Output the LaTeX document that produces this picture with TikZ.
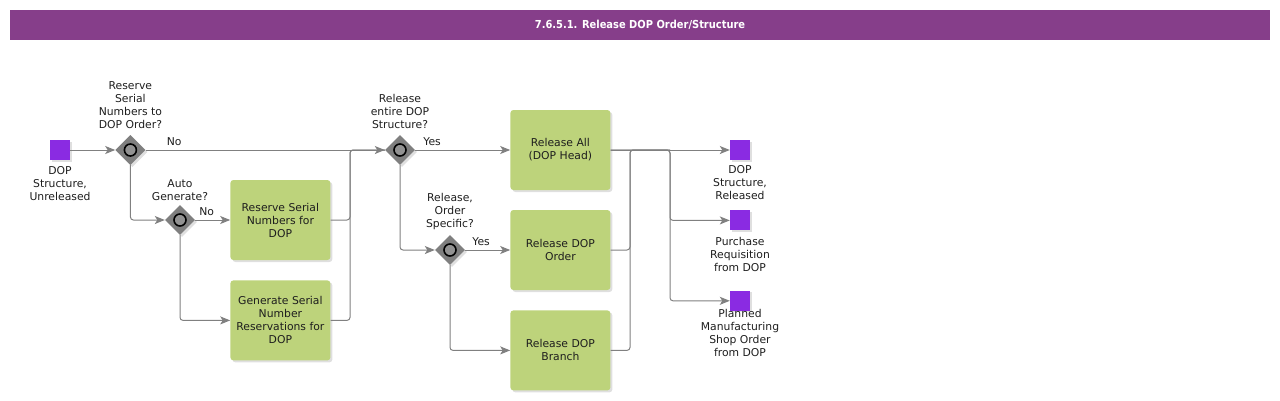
\documentclass[tikz,border=0pt]{standalone}
\usepackage{fontspec}
\setmainfont{DejaVu Sans}
\newfontfamily\titlefont{DejaVu Sans Condensed}
\usepackage{xcolor}
\usetikzlibrary{shapes.geometric, arrows.meta, positioning, calc, shadows}
\definecolor{titlebg}{HTML}{863E8A}
\definecolor{eventfill}{HTML}{8A2BE2}
\definecolor{taskfill}{HTML}{BDD37B}
\definecolor{flow}{HTML}{808080}
\definecolor{gatefill}{HTML}{7F7F7F}
\definecolor{labeltext}{HTML}{1E1E1E}

\begin{document}
\begin{tikzpicture}[
  x=1pt, y=-1pt,
  font=\fontsize{10.8}{13}\selectfont,
  titlebar/.style={rectangle, fill=titlebg, text=white, minimum width=1260pt,
                   minimum height=30pt, inner sep=0pt,
                   font=\titlefont\bfseries\fontsize{11}{13}\selectfont},
  task/.style={rectangle, rounded corners=3pt, fill=taskfill, text=labeltext,
               align=center, minimum width=100pt,
               minimum height=80pt, inner sep=0pt,
               drop shadow={shadow xshift=2pt, shadow yshift=-2pt, opacity=0.25}},
  event/.style={rectangle, fill=eventfill, minimum size=20pt, inner sep=0pt,
                drop shadow={shadow xshift=1.5pt, shadow yshift=-1.5pt, opacity=0.25}},
  gate/.style={diamond, fill=gatefill, minimum size=30pt, inner sep=0pt,
               drop shadow={shadow xshift=2pt, shadow yshift=-2pt, opacity=0.25}},
  ring/.style={circle, draw=black, line width=1.6pt, fill=gatefill!85!white,
               minimum size=12pt, inner sep=0pt},
  qlabel/.style={align=center, inner sep=1pt, text=labeltext},
  elabel/.style={inner sep=1pt, text=labeltext},
  flowline/.style={flow, line width=1pt, rounded corners=3pt},
  arr/.style={flowline, -{Stealth[length=10pt, width=8pt, inset=2.5pt]}}
]
  \useasboundingbox (0,0) rectangle (1280,400);

  \node[titlebar] (title) at (640,25) {7.6.5.1. Release DOP Order/Structure};

  % start and serial number reservation
  \node[event] (start) at (60,150) {};
  \node[qlabel, below=5pt of start] (startlbl) {DOP\\Structure,\\Unreleased};
  \node[gate, right=45pt of start] (g1) {};
  \node[ring] (g1c) at (g1) {};
  \node[qlabel, above=5pt of g1] (g1lbl) {Reserve\\Serial\\Numbers to\\DOP Order?};
  \node[gate] (g2) at (180,220) {};
  \node[ring] (g2c) at (g2) {};
  \node[qlabel, above=3pt of g2] (g2lbl) {Auto\\Generate?};
  \node[task, right=35pt of g2] (resv) {Reserve Serial\\Numbers for\\DOP};
  \node[task, below=20pt of resv] (gen) {Generate Serial\\Number\\Reservations for\\DOP};
  \coordinate (join1) at (350,150);

  % release
  \node[gate] (g3) at (400,150) {};
  \node[ring] (g3c) at (g3) {};
  \node[qlabel, above=5pt of g3] (g3lbl) {Release\\entire DOP\\Structure?};
  \node[task, right=95pt of g3] (all) {Release All\\(DOP Head)};
  \node[gate] (g4) at (450,250) {};
  \node[ring] (g4c) at (g4) {};
  \node[qlabel, above=4pt of g4] (g4lbl) {Release,\\Order\\Specific?};
  \node[task, right=45pt of g4] (ord) {Release DOP\\Order};
  \node[task, below=20pt of ord] (branch) {Release DOP\\Branch};
  \coordinate (join2) at (630,150);
  \coordinate (split) at (670,150);

  % results
  \node[event] (done1) at (740,150) {};
  \node[qlabel, below=4pt of done1] (done1lbl) {DOP\\Structure,\\Released};
  \node[event, below=50pt of done1] (done2) {};
  \node[qlabel, below=5pt of done2] (done2lbl) {Purchase\\Requisition\\from DOP};
  \node[event, below=60pt of done2] (done3) {};
  \node[qlabel, below=-3pt of done3] (done3lbl) {Planned\\Manufacturing\\Shop Order\\from DOP};

  \node[elabel, above right=3pt and 20pt of g1.east] (no1) {No};
  \node[elabel, above right=3pt and 3pt of g2.east] (no2) {No};
  \node[elabel, above right=3pt and 7pt of g3.east] (yes1) {Yes};
  \node[elabel, above right=3pt and 6pt of g4.east] (yes2) {Yes};

  \draw[arr] (start) -- (g1);
  \draw[arr] (g1.east) -- (g3.west);
  \draw[arr] (g1.south) |- (g2.west);
  \draw[arr] (g2.east) -- (resv.west);
  \draw[arr] (g2.south) |- (gen.west);
  \draw[flowline] (resv.east) -| (join1) -- (g3.west);
  \draw[flowline] (gen.east) -| (join1) -- (g3.west);
  \draw[arr] (g3.east) -- (all.west);
  \draw[arr] (g3.south) |- (g4.west);
  \draw[arr] (g4.east) -- (ord.west);
  \draw[arr] (g4.south) |- (branch.west);
  \draw[flowline] (ord.east) -| (join2) -- (split);
  \draw[flowline] (branch.east) -| (join2) -- (split);
  \draw[arr] (all.east) -- (done1.west);
  \draw[arr] (all.east) -- (split) |- (done2.west);
  \draw[arr] (all.east) -- (split) |- (done3.west);
\end{tikzpicture}
\end{document}
